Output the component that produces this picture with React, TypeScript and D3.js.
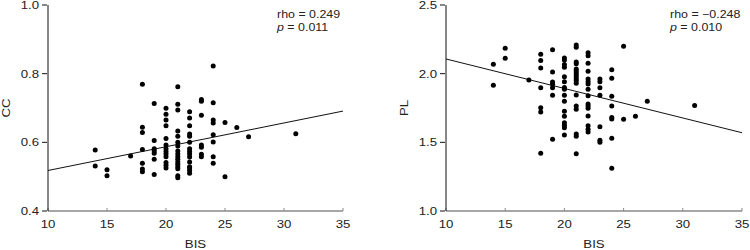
import * as d3 from "d3";
import React from "react";

// BIS levels (x) shared by both panels
const bisLevels = [14, 15, 17, 18, 19, 20, 21, 22, 23, 24, 25, 26, 27, 31];

// CC values per BIS level
const ccValues = [
  [0.578, 0.531],
  [0.52, 0.503],
  [0.56],
  [0.769, 0.644, 0.629, 0.579, 0.539, 0.522, 0.514],
  [0.713, 0.605, 0.581, 0.575, 0.568, 0.551, 0.506],
  [0.699, 0.682, 0.665, 0.648, 0.611, 0.592, 0.581, 0.573, 0.566, 0.558, 0.541, 0.533, 0.525],
  [0.762, 0.711, 0.694, 0.633, 0.618, 0.6, 0.589, 0.575, 0.566, 0.558, 0.551, 0.543, 0.536, 0.529, 0.523, 0.503, 0.497],
  [0.689, 0.671, 0.648, 0.624, 0.618, 0.6, 0.581, 0.573, 0.566, 0.557, 0.543, 0.529, 0.525, 0.518, 0.51],
  [0.725, 0.72, 0.679, 0.592, 0.586, 0.565, 0.558],
  [0.822, 0.715, 0.665, 0.656, 0.622, 0.601, 0.558, 0.539],
  [0.658, 0.5],
  [0.643],
  [0.616],
  [0.625],
];

// PL values per BIS level
const plValues = [
  [2.068, 1.915],
  [2.185, 2.112],
  [1.954],
  [2.141, 2.095, 2.042, 1.898, 1.752, 1.721, 1.42],
  [2.175, 2.012, 1.94, 1.923, 1.898, 1.843, 1.522],
  [2.114, 2.1, 2.066, 2.047, 1.978, 1.942, 1.9, 1.886, 1.843, 1.799, 1.726, 1.69, 1.643, 1.624, 1.607, 1.553],
  [2.209, 2.192, 2.085, 2.073, 2.034, 2.022, 2.007, 1.993, 1.978, 1.961, 1.949, 1.93, 1.845, 1.765, 1.741, 1.561, 1.544, 1.417],
  [2.153, 2.131, 2.076, 2.017, 1.961, 1.942, 1.925, 1.886, 1.84, 1.779, 1.765, 1.748, 1.692, 1.621, 1.595, 1.575],
  [1.961, 1.942, 1.898, 1.843, 1.614, 1.515, 1.5],
  [2.029, 1.966, 1.835, 1.765, 1.68, 1.67, 1.53, 1.311],
  [2.2, 1.668],
  [1.69],
  [1.799],
  [1.769],
];

// fitted lines, at BIS 10 and 35
const fitX = [10, 35];
const ccFit = [0.518, 0.691];
const plFit = [2.107, 1.57];

const xTicks = [10, 15, 20, 25, 30, 35];
const ccTicks = ["0.4", "0.6", "0.8", "1.0"];
const plTicks = ["1.0", "1.5", "2.0", "2.5"];

function SText({ x, y, anchor = "start", size = 11.5, rotate = 0, children }) {
  return (
    <g transform={`translate(${x},${y}) rotate(${rotate}) scale(1.15,1)`}>
      <text
        textAnchor={anchor}
        fontSize={size}
        fontFamily="'Liberation Sans', Arial, sans-serif"
        fill="#222"
      >
        {children}
      </text>
    </g>
  );
}

function Panel({ left, right, yDomain, yTicks, yLabel, values, fit, rho, p, noteX }) {
  const top = 5,
    bottom = 211;
  const x = d3.scaleLinear().domain([10, 35]).range([left, right]);
  const y = d3.scaleLinear().domain(yDomain).range([bottom, top]);
  const line = d3
    .line()
    .x((d) => x(d[0]))
    .y((d) => y(d[1]));
  const pts = [];
  bisLevels.forEach((b, i) => values[i].forEach((v) => pts.push([b, v])));
  return (
    <g>
      {/* x axis */}
      <line x1={left} x2={right} y1={bottom} y2={bottom} stroke="#8a8a8a" strokeWidth={1.6} />
      {xTicks.map((t) => (
        <g key={t}>
          <line x1={x(t)} x2={x(t)} y1={bottom} y2={bottom - 3} stroke="#8a8a8a" />
          <SText x={x(t)} y={bottom + 17} anchor="middle">
            {t}
          </SText>
        </g>
      ))}
      <SText x={(left + right) / 2} y={248} anchor="middle">
        BIS
      </SText>
      {/* y axis */}
      <line x1={left} x2={left} y1={top} y2={bottom} stroke="#111" />
      {yTicks.map((t) => (
        <g key={t}>
          <line x1={left - 6} x2={left - 1} y1={y(+t)} y2={y(+t)} stroke="#111" />
          <SText x={left - 9} y={y(+t) + 4} anchor="end">
            {t}
          </SText>
        </g>
      ))}
      <SText x={left - 38} y={(top + bottom) / 2} anchor="middle" rotate={-90}>
        {yLabel}
      </SText>
      {/* fit line */}
      <path
        d={line(fitX.map((f, i) => [f, fit[i]]))}
        fill="none"
        stroke="#111"
        strokeWidth={1}
      />
      {pts.map((d, i) => (
        <circle key={i} cx={x(d[0])} cy={y(d[1])} r={2.5} fill="#000" />
      ))}
      <SText x={noteX} y={17.5} size={10.8}>
        {rho}
      </SText>
      <SText x={noteX} y={30.5} size={10.8}>
        <tspan fontStyle="italic">p</tspan> = {p}
      </SText>
    </g>
  );
}

export default function App() {
  return (
    <svg
      width={750}
      height={250}
      style={{ position: "absolute", left: 0, top: 0, background: "#fff" }}
    >
      <rect width={750} height={250} fill="#fff" />
      <Panel
        left={48}
        right={343}
        yDomain={[0.4, 1.0]}
        yTicks={ccTicks}
        yLabel="CC"
        values={ccValues}
        fit={ccFit}
        rho="rho = 0.249"
        p="0.011"
        noteX={277}
      />
      <Panel
        left={446}
        right={742}
        yDomain={[1.0, 2.5]}
        yTicks={plTicks}
        yLabel="PL"
        values={plValues}
        fit={plFit}
        rho="rho = −0.248"
        p="0.010"
        noteX={670}
      />
    </svg>
  );
}
